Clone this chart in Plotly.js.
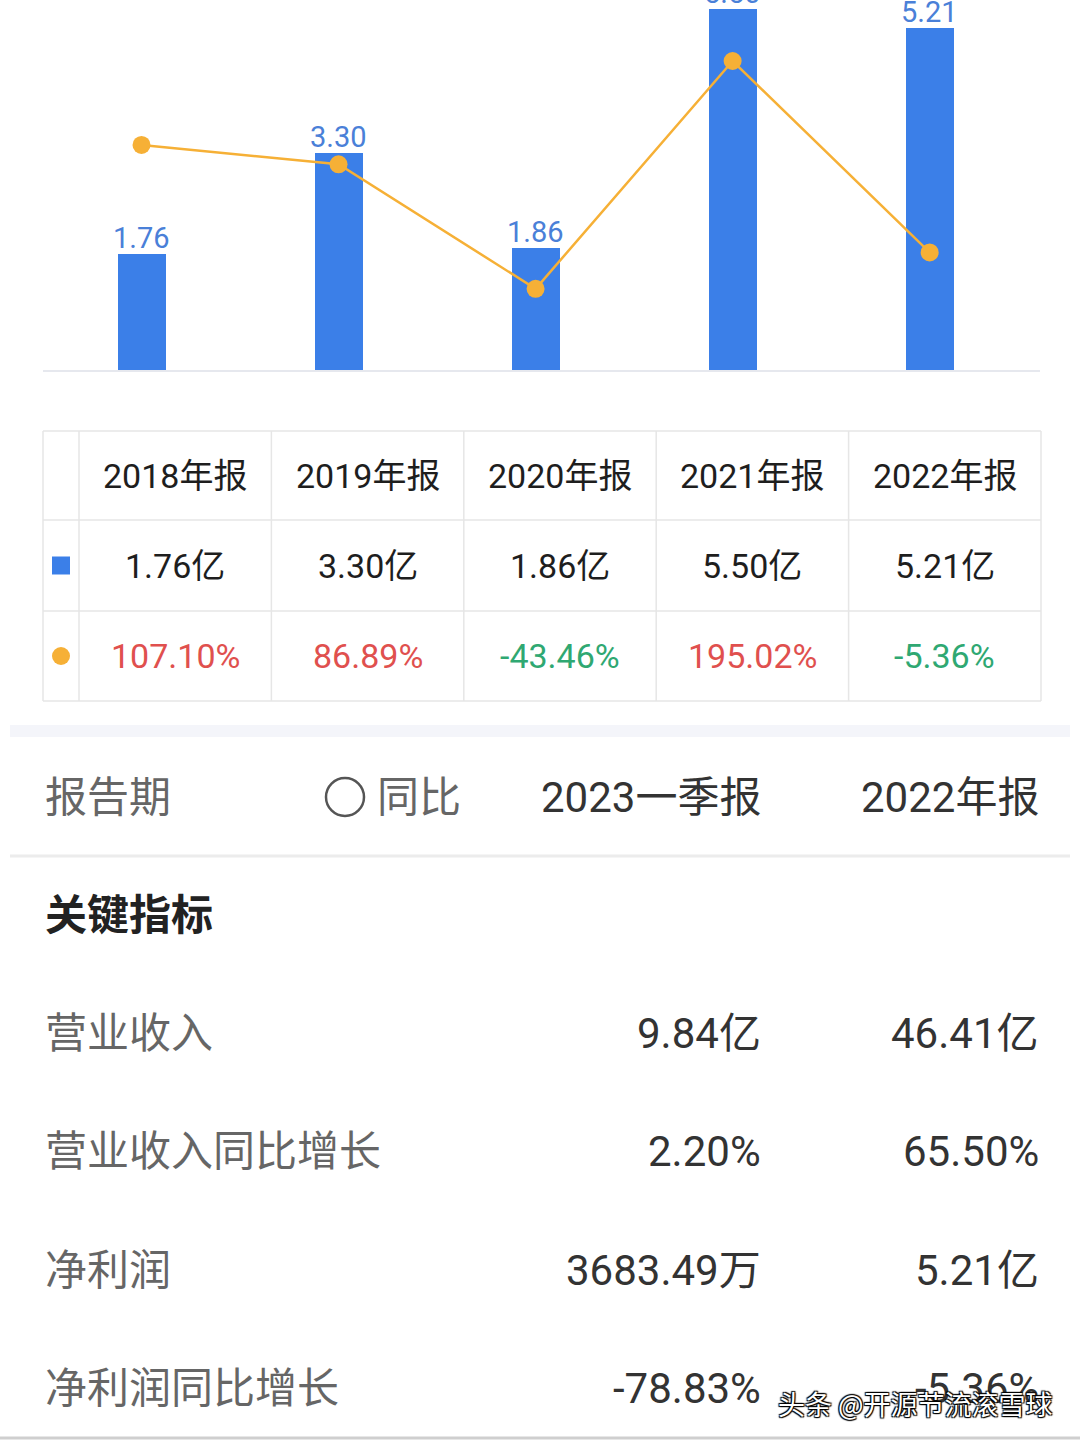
<!DOCTYPE html>
<html>
<head>
<meta charset="utf-8">
<script src="https://cdn.plot.ly/plotly-3.0.1.min.js"></script>
<style>
  html, body { margin: 0; padding: 0; background: #ffffff; }
  #chart { width: 1080px; height: 1440px; }
</style>
</head>
<body>
<div id="chart"></div>
<script>
// ---------- data ----------
const years = ['2018年报', '2019年报', '2020年报', '2021年报', '2022年报'];
const netProfit = [1.76, 3.30, 1.86, 5.50, 5.21];          // 亿
const yoyGrowth = [107.10, 86.89, -43.46, 195.02, -5.36];  // %
const periodLabel = '报告期';
const compareLabel = '同比';
const periodHeaders = ['2023一季报', '2022年报'];
const sectionTitle = '关键指标';
const metricNames = ['营业收入', '营业收入同比增长', '净利润', '净利润同比增长'];
const q1_2023 = ['9.84亿', '2.20%', '3683.49万', '-78.83%'];
const fy2022 = ['46.41亿', '65.50%', '5.21亿', '-5.36%'];
const watermark = '头条 @开源节流滚雪球';

// ---------- helpers ----------
const W = 1080, H = 1440;
const px = x => x / W;
const py = y => 1 - y / H;
const FONT = "Roboto, 'Noto Sans CJK SC', sans-serif";
const BLUE = '#3b7fe8';
const ORANGE = '#f6b036';
const RED = '#e0504e';
const GREEN = '#2fa872';
const GRID = '#e6e6e6';

const shapes = [];
const annotations = [];

// ---------- bar value labels (anchored to the data) ----------
years.forEach((yr, i) => annotations.push({
  xref: 'x', yref: 'y', x: yr, y: netProfit[i], text: netProfit[i].toFixed(2),
  showarrow: false, xanchor: 'center', yanchor: 'bottom', yshift: -2, borderpad: 0,
  font: {family: FONT, size: 29, color: '#4a80d8'}
}));

// ---------- table under the chart ----------
const tLeft = 43, tRight = 1041, firstColW = 36;
const rowEdges = [431, 520, 611, 701];
const colW = (tRight - tLeft - firstColW) / years.length;
const colEdges = [tLeft, tLeft + firstColW];
years.forEach((_, i) => colEdges.push(tLeft + firstColW + colW * (i + 1)));

rowEdges.forEach(y => shapes.push({type: 'line', xref: 'paper', yref: 'paper',
  x0: px(tLeft), x1: px(tRight), y0: py(y), y1: py(y), line: {color: GRID, width: 1.5}}));
colEdges.forEach(x => shapes.push({type: 'line', xref: 'paper', yref: 'paper',
  x0: px(x), x1: px(x), y0: py(rowEdges[0]), y1: py(rowEdges[rowEdges.length - 1]), line: {color: GRID, width: 1.5}}));

const rowMid = r => (rowEdges[r] + rowEdges[r + 1]) / 2;
const colMid = c => tLeft + firstColW + colW * (c + 0.5);
const markX = tLeft + firstColW / 2;

// legend marks in first column
shapes.push({type: 'rect', xref: 'paper', yref: 'paper',
  x0: px(markX - 9), x1: px(markX + 9), y0: py(rowMid(1) - 9), y1: py(rowMid(1) + 9),
  fillcolor: BLUE, line: {width: 0}});
shapes.push({type: 'circle', xref: 'paper', yref: 'paper',
  x0: px(markX - 9), x1: px(markX + 9), y0: py(rowMid(2) - 9), y1: py(rowMid(2) + 9),
  fillcolor: ORANGE, line: {width: 0}});

years.forEach((yr, i) => {
  annotations.push({xref: 'paper', yref: 'paper', x: px(colMid(i)), y: py(rowMid(0)),
    text: yr, showarrow: false, xanchor: 'center', yanchor: 'middle',
    font: {family: FONT, size: 34, color: '#1e1e1e'}});
  annotations.push({xref: 'paper', yref: 'paper', x: px(colMid(i)), y: py(rowMid(1)),
    text: netProfit[i].toFixed(2) + '亿', showarrow: false, xanchor: 'center', yanchor: 'middle',
    font: {family: FONT, size: 34, color: '#1e1e1e'}});
  annotations.push({xref: 'paper', yref: 'paper', x: px(colMid(i)), y: py(rowMid(2)),
    text: yoyGrowth[i].toFixed(2) + '%', showarrow: false, xanchor: 'center', yanchor: 'middle',
    font: {family: FONT, size: 34, color: yoyGrowth[i] >= 0 ? RED : GREEN}});
});

// ---------- separators ----------
shapes.push({type: 'rect', xref: 'paper', yref: 'paper',
  x0: px(10), x1: px(1070), y0: py(725), y1: py(737), fillcolor: '#f4f5fa', line: {width: 0}});
shapes.push({type: 'line', xref: 'paper', yref: 'paper',
  x0: px(10), x1: px(1070), y0: py(856), y1: py(856), line: {color: '#ececec', width: 3}});
shapes.push({type: 'line', xref: 'paper', yref: 'paper',
  x0: px(0), x1: px(1080), y0: py(1438), y1: py(1438), line: {color: '#cfcfcf', width: 3}});

// ---------- period header row ----------
const headY = 797;
const labelLeft = 43;
annotations.push({xref: 'paper', yref: 'paper', x: px(labelLeft), y: py(headY), text: periodLabel,
  showarrow: false, xanchor: 'left', yanchor: 'middle', font: {family: FONT, size: 42, color: '#666666'}});
shapes.push({type: 'circle', xref: 'paper', yref: 'paper',
  x0: px(326), x1: px(364), y0: py(headY - 19), y1: py(headY + 19), line: {color: '#555555', width: 2.5}});
annotations.push({xref: 'paper', yref: 'paper', x: px(375), y: py(headY), text: compareLabel,
  showarrow: false, xanchor: 'left', yanchor: 'middle', font: {family: FONT, size: 42, color: '#666666'}});
const valRight = [763, 1041];
periodHeaders.forEach((h, i) => annotations.push({xref: 'paper', yref: 'paper', x: px(valRight[i]), y: py(headY),
  text: h, showarrow: false, xanchor: 'right', yanchor: 'middle', font: {family: FONT, size: 42, color: '#333333'}}));

// ---------- key metrics ----------
annotations.push({xref: 'paper', yref: 'paper', x: px(labelLeft), y: py(915), text: '<b>' + sectionTitle + '</b>',
  showarrow: false, xanchor: 'left', yanchor: 'middle', font: {family: FONT, size: 42, color: '#222222'}});
const rowYs = [1033, 1151, 1270, 1388];
metricNames.forEach((name, i) => {
  annotations.push({xref: 'paper', yref: 'paper', x: px(labelLeft), y: py(rowYs[i]), text: name,
    showarrow: false, xanchor: 'left', yanchor: 'middle', font: {family: FONT, size: 42, color: '#666666'}});
  annotations.push({xref: 'paper', yref: 'paper', x: px(valRight[0]), y: py(rowYs[i]), text: q1_2023[i],
    showarrow: false, xanchor: 'right', yanchor: 'middle', font: {family: FONT, size: 42, color: '#333333'}});
  annotations.push({xref: 'paper', yref: 'paper', x: px(valRight[1]), y: py(rowYs[i]), text: fy2022[i],
    showarrow: false, xanchor: 'right', yanchor: 'middle', font: {family: FONT, size: 42, color: '#333333'}});
});

// watermark
annotations.push({xref: 'paper', yref: 'paper', x: px(1055), y: py(1403), text: watermark,
  showarrow: false, xanchor: 'right', yanchor: 'middle',
  font: {family: "'Noto Sans CJK SC', sans-serif", size: 27, color: '#ffffff',
    shadow: '1px 1px 1px #000, -1px -1px 1px #000, 1px -1px 1px #000, -1px 1px 1px #000'}});

// ---------- traces ----------
const bars = {
  type: 'bar', x: years, y: netProfit, yaxis: 'y',
  marker: {color: BLUE}, width: 48 / 197,
  hoverinfo: 'skip'
};
const line = {
  type: 'scatter', mode: 'lines+markers', x: years, y: yoyGrowth, yaxis: 'y2',
  line: {color: ORANGE, width: 2.5}, marker: {color: ORANGE, size: 18},
  cliponaxis: false, hoverinfo: 'skip'
};

const layout = {
  width: W, height: H,
  margin: {l: 0, r: 0, t: 0, b: 0, pad: 0},
  paper_bgcolor: '#ffffff', plot_bgcolor: '#ffffff',
  showlegend: false,
  xaxis: {domain: [px(43), px(1040)], type: 'category', range: [-0.5, 4.56],
    showticklabels: false, ticks: '', showgrid: false, zeroline: false,
    showline: true, linecolor: '#e6e8ee', linewidth: 2, fixedrange: true},
  yaxis: {domain: [py(370), 1], range: [0, 5.632], showticklabels: false, ticks: '',
    showgrid: false, zeroline: false, showline: false, fixedrange: true},
  yaxis2: {overlaying: 'y', side: 'right', range: [-128.5, 258.9], showticklabels: false,
    ticks: '', showgrid: false, zeroline: false, showline: false, fixedrange: true},
  shapes: shapes,
  annotations: annotations,
  bargap: 0
};

Plotly.newPlot('chart', [bars, line], layout, {displayModeBar: false, staticPlot: true});
</script>
</body>
</html>
